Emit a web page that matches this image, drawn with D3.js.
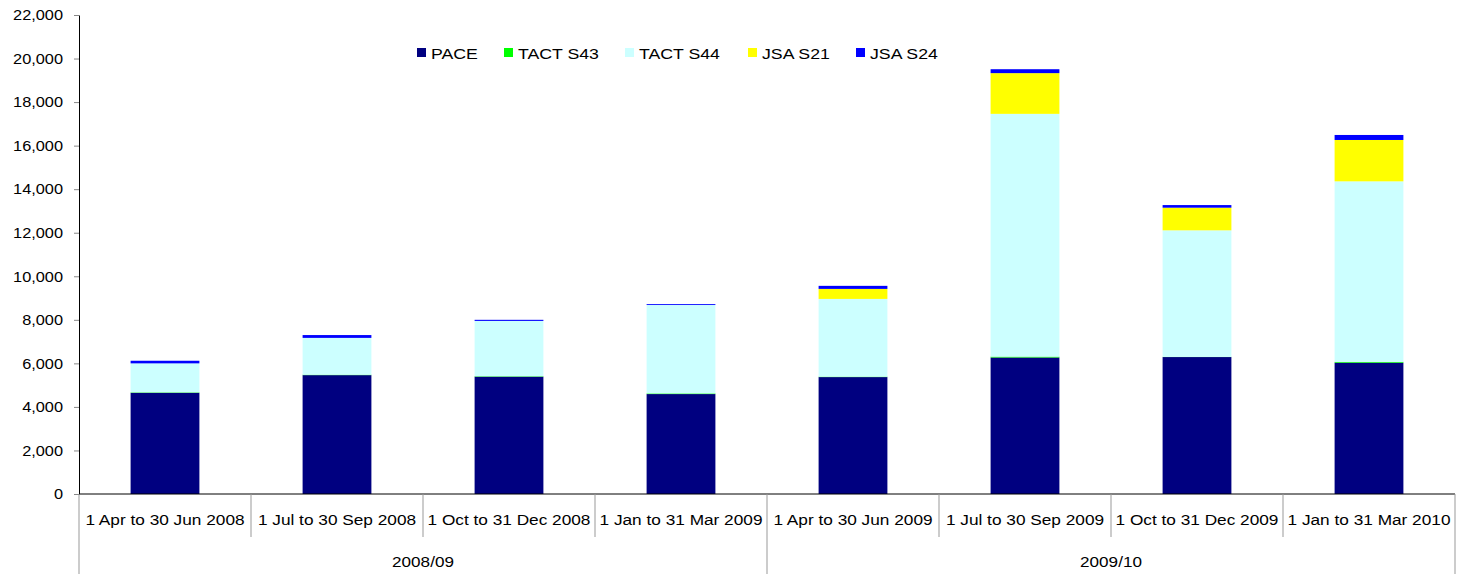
<!DOCTYPE html>
<html>
<head>
<meta charset="utf-8">
<script src="https://cdn.jsdelivr.net/npm/d3@7"></script>
<style>
  body { margin: 0; background: #fff; }
  svg text { font-family: "Liberation Sans", Arial, sans-serif; fill: #000; }
</style>
</head>
<body>
<div id="chart"></div>
<script>
// quarters and financial years
const quarters = [
  "1 Apr to 30 Jun 2008", "1 Jul to 30 Sep 2008", "1 Oct to 31 Dec 2008", "1 Jan to 31 Mar 2009",
  "1 Apr to 30 Jun 2009", "1 Jul to 30 Sep 2009", "1 Oct to 31 Dec 2009", "1 Jan to 31 Mar 2010"
];
const years = ["2008/09", "2009/10"];
const seriesNames = ["PACE", "TACT S43", "TACT S44", "JSA S21", "JSA S24"];

// values
const pace    = [4650, 5460, 5390, 4590, 5370, 6270, 6290, 6030];
const tactS43 = [20, 20, 20, 30, 20, 40, 10, 40];
const tactS44 = [1330, 1690, 2540, 4060, 3570, 11150, 5810, 8290];
const jsaS21  = [0, 0, 0, 0, 460, 1870, 1040, 1900];
const jsaS24  = [120, 130, 50, 40, 140, 180, 120, 230];
const yTicks  = d3.range(0, 22001, 2000);

(function () {
  const W = 1457, H = 574;
  const margin = { top: 15, right: 2, bottom: 80, left: 79 };
  const width  = W - margin.left - margin.right;
  const height = H - margin.top - margin.bottom;

  const colors = ["#000080", "#00ff00", "#ccffff", "#ffff00", "#0000ff"];
  const cols = [pace, tactS43, tactS44, jsaS21, jsaS24];

  const rows = quarters.map((q, i) => {
    const r = { q };
    seriesNames.forEach((s, k) => r[s] = cols[k][i]);
    return r;
  });

  const svg = d3.select("#chart").append("svg")
      .attr("width", W)
      .attr("height", H);

  const g = svg.append("g")
      .attr("transform", `translate(${margin.left},${margin.top})`);

  const xCat = d3.scaleBand().domain(quarters).range([0, width]);
  const y = d3.scaleLinear().domain([0, 22000]).range([height, 0]);

  // text in the original is a bit wider than Liberation Sans, stretch it
  function stretched(sel, x, y, sx) {
    return sel.attr("x", 0).attr("y", 0)
      .attr("transform", `translate(${x},${y}) scale(${sx},1)`);
  }

  // stacked bars
  const stacked = d3.stack().keys(seriesNames)(rows);
  g.selectAll(".layer")
    .data(stacked)
    .join("g")
      .attr("class", "layer")
      .attr("fill", (d, i) => colors[i])
    .selectAll("rect")
    .data(d => d)
    .join("rect")
      .attr("x", d => xCat(d.data.q) + xCat.bandwidth() * 0.3)
      .attr("width", xCat.bandwidth() * 0.4)
      .attr("y", d => y(d[1]))
      .attr("height", d => Math.max(0, y(d[0]) - y(d[1])));

  // y axis
  const yAxis = g.append("g")
      .call(d3.axisLeft(y).tickValues(yTicks).tickFormat(d3.format(",")).tickSize(5).tickSizeOuter(0));
  yAxis.select(".domain").attr("stroke", "#000");
  yAxis.selectAll(".tick line").attr("stroke", "#888");
  yAxis.selectAll("text")
      .attr("font-size", 15)
      .attr("x", -16 / 1.09)
      .attr("transform", "scale(1.09,1)")
      .style("font-family", "'Liberation Sans', Arial, sans-serif");

  // x axis baseline
  g.append("line")
      .attr("x1", 0).attr("x2", width)
      .attr("y1", height).attr("y2", height)
      .attr("stroke", "#000");

  // category separators
  const sep = g.append("g").attr("stroke", "#999");
  quarters.forEach((q, i) => {
    const xs = xCat(q);
    const outer = i % 4 === 0;
    sep.append("line")
      .attr("x1", xs).attr("x2", xs)
      .attr("y1", height).attr("y2", outer ? H - margin.top : height + 43);
  });
  sep.append("line")
    .attr("x1", width).attr("x2", width)
    .attr("y1", height).attr("y2", H - margin.top);

  // quarter labels
  g.append("g").selectAll("text")
    .data(quarters)
    .join("text")
      .attr("text-anchor", "middle")
      .attr("font-size", 15)
      .text(d => d)
      .each(function (d) {
        stretched(d3.select(this), xCat(d) + xCat.bandwidth() / 2, height + 31, 1.15);
      });

  // year labels
  g.append("g").selectAll("text")
    .data(years)
    .join("text")
      .attr("text-anchor", "middle")
      .attr("font-size", 15)
      .text(d => d)
      .each(function (d, i) {
        stretched(d3.select(this), xCat(quarters[i * 4]) + xCat.bandwidth() * 2, height + 73, 1.14);
      });

  // legend
  const legendX = [417, 504, 625, 748, 856];
  const legend = svg.append("g");
  seriesNames.forEach((s, i) => {
    legend.append("rect")
      .attr("x", legendX[i]).attr("y", 48)
      .attr("width", 9).attr("height", 9)
      .attr("fill", colors[i]);
    stretched(legend.append("text").attr("font-size", 15).text(s), legendX[i] + 14, 58.5, 1.18);
  });
})();
</script>
</body>
</html>
